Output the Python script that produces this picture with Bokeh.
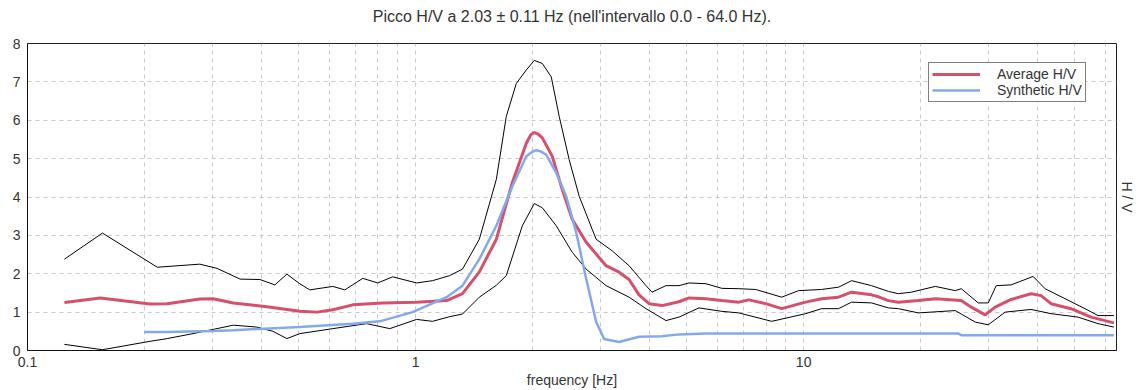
from bokeh.plotting import figure
from bokeh.models import Range1d, FixedTicker, Legend, LegendItem, LinearAxis, LogAxis
from bokeh.embed import file_html
from bokeh.resources import INLINE

# ---- data ----
freq_avg = [0.1245, 0.154, 0.207, 0.229, 0.278, 0.301, 0.339, 0.414, 0.503, 0.557, 0.612, 0.689,
            0.823, 1.006, 1.202, 1.223, 1.321, 1.46, 1.615, 1.776, 1.929, 1.98, 2.023, 2.07, 2.121, 2.25,
            2.387, 2.533, 2.752, 3.097, 3.345, 3.549, 3.765, 3.996, 4.315, 4.773, 5.064, 5.6,
            6.155, 6.808, 7.222, 7.986, 8.778, 10.12, 11.12, 12.3, 13.29, 14.96, 15.59, 16.54,
            17.55, 19.75, 21.84, 25.48, 27.03, 29.37, 31.16, 34.25, 38.56, 40.91, 43.4, 48.87,
            55.02, 63.0]
avg_hv = [1.25, 1.37, 1.21, 1.22, 1.34, 1.35, 1.24, 1.14, 1.02, 1.00, 1.06, 1.19,
          1.24, 1.26, 1.30, 1.33, 1.48, 2.05, 2.90, 4.38, 5.40, 5.62, 5.68, 5.64, 5.54, 5.06,
          4.20, 3.42, 2.82, 2.21, 2.04, 1.85, 1.45, 1.22, 1.17, 1.27, 1.37, 1.35,
          1.30, 1.26, 1.32, 1.22, 1.09, 1.26, 1.35, 1.39, 1.52, 1.45, 1.40, 1.30,
          1.26, 1.30, 1.35, 1.30, 1.13, 0.93, 1.13, 1.33, 1.48, 1.43, 1.22, 1.09,
          0.87, 0.72]

freq_upper = [0.1245, 0.156, 0.216, 0.278, 0.308, 0.353, 0.397, 0.434, 0.466, 0.503, 0.534, 0.612,
              0.657, 0.731, 0.799, 0.873, 1.006, 1.106, 1.223, 1.321, 1.46, 1.615, 1.713, 1.818,
              1.929, 2.023, 2.121, 2.237, 2.345, 2.488, 2.64, 2.919, 3.209, 3.549, 3.925, 4.067,
              4.418, 4.773, 5.064, 5.6, 6.155, 6.808, 7.527, 8.778, 9.708, 11.12, 12.3, 13.29,
              14.96, 16.54, 17.55, 18.95, 21.84, 24.59, 25.48, 28.18, 29.9, 31.35, 34.25, 39.03,
              41.89, 47.15, 53.09, 57.35, 63.0]
upper_hv = [2.38, 3.06, 2.17, 2.25, 2.14, 1.86, 1.85, 1.71, 1.99, 1.74, 1.58, 1.67,
            1.58, 1.88, 1.76, 1.92, 1.76, 1.82, 1.95, 2.12, 2.90, 4.46, 6.10, 6.96,
            7.31, 7.56, 7.48, 7.13, 6.10, 4.97, 4.02, 2.90, 2.60, 2.21, 1.69, 1.52,
            1.69, 1.69, 1.76, 1.74, 1.62, 1.61, 1.59, 1.39, 1.56, 1.59, 1.65, 1.82,
            1.69, 1.54, 1.48, 1.52, 1.67, 1.56, 1.61, 1.24, 1.24, 1.69, 1.71, 1.93,
            1.61, 1.35, 1.09, 0.91, 0.91]

freq_lower = [0.1245, 0.156, 0.207, 0.229, 0.267, 0.339, 0.39, 0.429, 0.466, 0.503, 0.612, 0.748,
              0.858, 1.006, 1.106, 1.223, 1.321, 1.46, 1.615, 1.713, 1.884, 2.023, 2.121, 2.304,
              2.533, 2.752, 3.097, 3.549, 3.925, 4.418, 4.773, 5.372, 6.155, 6.808, 8.275, 10.12,
              11.12, 12.3, 13.29, 14.96, 16.54, 17.55, 19.75, 24.59, 27.68, 29.9, 33.06, 38.56,
              43.4, 50.94, 57.35, 63.0]
lower_hv = [0.16, 0.02, 0.24, 0.31, 0.44, 0.66, 0.61, 0.50, 0.31, 0.44, 0.57, 0.70,
            0.57, 0.81, 0.76, 0.88, 0.95, 1.39, 1.70, 1.95, 3.25, 3.83, 3.72, 3.25,
            2.56, 2.12, 1.69, 1.39, 1.09, 0.78, 0.87, 1.11, 1.02, 0.98, 0.76, 0.96,
            1.09, 1.09, 1.26, 1.24, 1.11, 1.09, 0.98, 1.04, 0.74, 0.67, 1.00, 1.07,
            0.96, 0.87, 0.70, 0.61]

freq_syn = [0.2, 0.229, 0.301, 0.339, 0.503, 0.689, 0.808, 0.982, 1.202, 1.321, 1.46, 1.615,
            1.776, 1.929, 2.0, 2.047, 2.1, 2.172, 2.304, 2.444, 2.593, 2.752, 2.919, 3.061, 3.345, 3.765,
            4.315, 4.773, 5.6, 10.0, 25.03, 25.5, 63.0]
syn_hv = [0.48, 0.48, 0.51, 0.53, 0.61, 0.70, 0.76, 1.00, 1.39, 1.69, 2.38, 3.25,
          4.28, 5.06, 5.18, 5.22, 5.19, 5.10, 4.63, 4.02, 3.08, 1.87, 0.75, 0.30, 0.22, 0.36,
          0.37, 0.42, 0.44, 0.44, 0.44, 0.40, 0.40]

x_ticks = [0.1, 1, 10]
x_minor = [0.2, 0.3, 0.4, 0.5, 0.6, 0.7, 0.8, 0.9, 2, 3, 4, 5, 6, 7, 8, 9, 20, 30, 40, 50, 60]
y_ticks = [0, 1, 2, 3, 4, 5, 6, 7, 8]
title_text = "Picco H/V a 2.03 \u00b1 0.11 Hz (nell'intervallo 0.0 - 64.0 Hz)."

FONT = "Liberation Sans"
TXT = "#333333"

p = figure(width=1142, height=390, x_axis_type="log",
           x_range=Range1d(0.1, 64.0), y_range=Range1d(0, 8),
           output_backend="svg", toolbar_location=None,
           min_border_left=27, min_border_right=26, min_border_top=43, min_border_bottom=38)

p.outline_line_color = "#222222"
p.outline_line_alpha = 1.0
p.background_fill_color = "white"
p.border_fill_color = "white"

x_ticker = FixedTicker(ticks=x_ticks, minor_ticks=x_minor)
y_ticker = FixedTicker(ticks=y_ticks)

bottom_axis = p.xaxis[0]
left_axis = p.yaxis[0]
bottom_axis.ticker = x_ticker
bottom_axis.major_label_overrides = {0.1: "0.1", 1: "1", 10: "10"}
left_axis.ticker = y_ticker
for ax in (bottom_axis, left_axis):
    ax.major_tick_line_color = None
    ax.minor_tick_line_color = None
    ax.major_tick_out = 0
    ax.major_tick_in = 0
    ax.axis_line_color = "#111111"
    ax.major_label_text_font = FONT
    ax.major_label_text_font_size = "14px"
    ax.major_label_text_color = TXT
    ax.axis_label_text_font = FONT
    ax.axis_label_text_font_size = "14px"
    ax.axis_label_text_font_style = "normal"
    ax.axis_label_text_color = TXT
bottom_axis.major_label_standoff = 2
left_axis.major_label_standoff = 7
bottom_axis.axis_label = "frequency [Hz]"
bottom_axis.axis_label_standoff = 2

# grid (set before the extra axes are added)
xgrid = p.xgrid[0]
ygrid = p.ygrid[0]
xgrid.ticker = x_ticker
xgrid.grid_line_color = "#c8c8c8"
xgrid.grid_line_dash = "4 4"
xgrid.minor_grid_line_color = "#c8c8c8"
xgrid.minor_grid_line_dash = "4 4"
ygrid.ticker = y_ticker
ygrid.grid_line_color = "#c8c8c8"
ygrid.grid_line_dash = "4 4"


def bare_axis(axis, label, standoff, size):
    axis.axis_label = label
    axis.ticker = FixedTicker(ticks=[])
    axis.axis_line_color = None
    axis.major_tick_line_color = None
    axis.minor_tick_line_color = None
    axis.major_tick_out = 0
    axis.major_tick_in = 0
    axis.major_label_text_font_size = "0px"
    axis.major_label_standoff = 0
    axis.axis_label_text_font = FONT
    axis.axis_label_text_font_size = size
    axis.axis_label_text_font_style = "normal"
    axis.axis_label_text_color = TXT
    axis.axis_label_standoff = standoff
    return axis


# title drawn as a bare top axis label so it can sit high in the top margin
p.add_layout(bare_axis(LogAxis(), title_text, 19, "16px"), "above")
# right-side "H / V" label
p.add_layout(bare_axis(LinearAxis(), "H / V", 2, "14px"), "right")

# lines
p.line(freq_upper, upper_hv, line_color="black", line_width=1)
p.line(freq_lower, lower_hv, line_color="black", line_width=1)
r_avg = p.line(freq_avg, avg_hv, line_color="#d6506c", line_width=3)
r_syn = p.line(freq_syn, syn_hv, line_color="#84a8ec", line_width=2.5)

legend = Legend(items=[LegendItem(label="Average H/V", renderers=[r_avg]),
                       LegendItem(label="Synthetic H/V", renderers=[r_syn])],
                location=(901, 248))
legend.border_line_color = "black"
legend.border_line_width = 1
legend.background_fill_color = "white"
legend.background_fill_alpha = 1.0
legend.label_text_font = FONT
legend.label_text_font_size = "14px"
legend.label_text_color = TXT
legend.glyph_width = 48
legend.glyph_height = 14
legend.label_height = 14
legend.label_standoff = 17
legend.padding = 3
legend.spacing = 0
legend.margin = 0
p.add_layout(legend, "center")

open("out.html", "w").write(file_html(p, INLINE))
